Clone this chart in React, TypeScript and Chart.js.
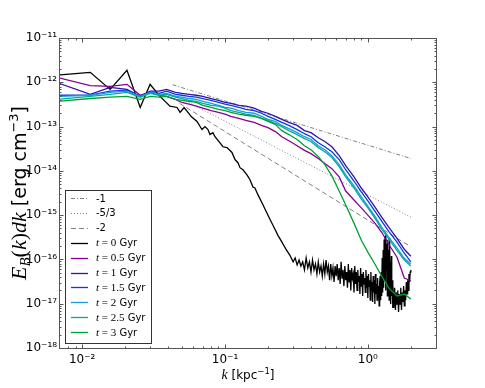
import React, { useEffect, useRef } from "react";
import { Chart, registerables } from "chart.js";

Chart.register(...registerables);

// ---------- data ----------
const kGrid = [0.0066, 0.0114, 0.0157, 0.0206, 0.0255, 0.0299, 0.0345, 0.039, 0.045, 0.05, 0.056, 0.063, 0.07, 0.08, 0.09, 0.1, 0.11, 0.125, 0.14, 0.16, 0.18, 0.2, 0.225, 0.25, 0.28, 0.32, 0.36, 0.4, 0.45, 0.5, 0.56, 0.63, 0.7, 0.8, 0.9, 1.0, 1.12, 1.25, 1.4, 1.6, 1.8, 2.0];

const eT05 = [1.3e-12, 8.4e-13, 8.1e-13, 9.0e-13, 5.1e-13, 5.9e-13, 5.1e-13, 4.8e-13, 4.1e-13, 3.5e-13, 3.2e-13, 2.9e-13, 2.6e-13, 2.3e-13, 2.1e-13, 1.9e-13, 1.7e-13, 1.53e-13, 1.38e-13, 1.24e-13, 1.06e-13, 9.5e-14, 7.7e-14, 5.9e-14, 4.8e-14, 3.7e-14, 2.9e-14, 2.45e-14, 1.9e-14, 1.46e-14, 1.12e-14, 7.3e-15, 3.5e-15, 2.2e-15, 1.46e-15, 1.0e-15, 6.6e-16, 4.1e-16, 2.2e-16, 1.12e-16, 3.8e-17, 3.3e-17];
const eT1 = [1.0e-12, 5.35e-13, 7.7e-13, 6.9e-13, 4.8e-13, 6.3e-13, 6.3e-13, 6.9e-13, 5.9e-13, 5.6e-13, 5.35e-13, 5.1e-13, 4.8e-13, 4.3e-13, 3.9e-13, 3.5e-13, 3.35e-13, 3.0e-13, 2.9e-13, 2.6e-13, 2.2e-13, 2.0e-13, 1.7e-13, 1.46e-13, 1.24e-13, 1.06e-13, 8.1e-14, 7.3e-14, 5.6e-14, 4.6e-14, 3.5e-14, 2.2e-14, 1.31e-14, 7.3e-15, 4.1e-15, 2.6e-15, 1.53e-15, 9.0e-16, 5.35e-16, 3.0e-16, 1.7e-16, 1.18e-16];
const eT15 = [5.1e-13, 5.1e-13, 6.3e-13, 6.6e-13, 4.8e-13, 5.9e-13, 5.6e-13, 6.3e-13, 5.35e-13, 5.1e-13, 4.8e-13, 4.6e-13, 4.3e-13, 3.9e-13, 3.5e-13, 3.2e-13, 3.0e-13, 2.7e-13, 2.45e-13, 2.3e-13, 2.0e-13, 1.7e-13, 1.46e-13, 1.24e-13, 1.06e-13, 8.55e-14, 6.9e-14, 5.9e-14, 4.3e-14, 3.5e-14, 2.7e-14, 1.8e-14, 1.06e-14, 5.9e-15, 3.35e-15, 2.1e-15, 1.24e-15, 7.3e-16, 4.3e-16, 2.45e-16, 1.38e-16, 8.8e-17];
const eT2 = [4.8e-13, 5.1e-13, 5.9e-13, 6.3e-13, 4.8e-13, 5.9e-13, 5.35e-13, 5.6e-13, 4.8e-13, 4.6e-13, 4.3e-13, 4.1e-13, 3.7e-13, 3.35e-13, 3.0e-13, 2.7e-13, 2.6e-13, 2.3e-13, 2.1e-13, 2.0e-13, 1.7e-13, 1.46e-13, 1.31e-13, 1.06e-13, 9.0e-14, 7.3e-14, 5.9e-14, 5.1e-14, 3.7e-14, 3.0e-14, 2.2e-14, 1.38e-14, 8.1e-15, 4.6e-15, 2.6e-15, 1.6e-15, 9.5e-16, 5.35e-16, 3.2e-16, 1.8e-16, 1.06e-16, 7.9e-17];
const eT25 = [4.1e-13, 4.8e-13, 5.35e-13, 5.9e-13, 4.6e-13, 5.6e-13, 5.1e-13, 5.35e-13, 4.6e-13, 4.3e-13, 3.9e-13, 3.7e-13, 3.35e-13, 3.0e-13, 2.9e-13, 2.6e-13, 2.3e-13, 2.1e-13, 1.9e-13, 1.8e-13, 1.53e-13, 1.38e-13, 1.18e-13, 1.0e-13, 8.1e-14, 6.6e-14, 5.35e-14, 4.6e-14, 3.35e-14, 2.7e-14, 2.0e-14, 1.24e-14, 7.3e-15, 4.1e-15, 2.3e-15, 1.46e-15, 8.55e-16, 4.8e-16, 2.9e-16, 1.6e-16, 9.7e-17, 7.1e-17];
const eT3 = [3.7e-13, 4.3e-13, 4.6e-13, 4.8e-13, 4.1e-13, 4.8e-13, 4.6e-13, 4.8e-13, 4.1e-13, 3.9e-13, 3.7e-13, 3.5e-13, 3.0e-13, 2.7e-13, 2.45e-13, 2.3e-13, 2.1e-13, 1.9e-13, 1.8e-13, 1.7e-13, 1.53e-13, 1.31e-13, 1.12e-13, 8.1e-14, 6.6e-14, 5.1e-14, 3.7e-14, 3.0e-14, 2.1e-14, 1.38e-14, 7.7e-15, 3.5e-15, 1.7e-15, 6.6e-16, 2.7e-16, 1.46e-16, 7.9e-17, 4.2e-17, 2.27e-17, 1.49e-17, 1.65e-17, 1.27e-17];

const kBlack = [
  0.0066, 0.0114, 0.0157, 0.0206, 0.0255, 0.0299, 0.0345, 0.0381, 0.0412, 0.0462,
  0.0485, 0.0517, 0.0551, 0.0578, 0.0637, 0.069, 0.0725, 0.076, 0.0785, 0.0824,
  0.0851, 0.0923, 0.0968, 0.1033, 0.1119, 0.1175, 0.1233, 0.1273, 0.1336, 0.1425,
  0.1496, 0.157, 0.162, 0.17, 0.1815, 0.1935, 0.2064, 0.2202, 0.2348, 0.2504,
  0.2671, 0.2848,
  0.30, 0.31, 0.32, 0.33, 0.34, 0.35, 0.36, 0.37, 0.38, 0.39,
  0.40, 0.41, 0.42, 0.43, 0.44, 0.45, 0.46, 0.47, 0.48, 0.49,
  0.50, 0.51, 0.52, 0.53, 0.54, 0.55, 0.56, 0.57, 0.58, 0.59, 0.60,
  0.61, 0.62, 0.63, 0.64, 0.65, 0.66, 0.67, 0.68, 0.69, 0.70,
  0.71, 0.72, 0.73, 0.74, 0.75, 0.76, 0.77, 0.78, 0.79, 0.80,
  0.81, 0.82, 0.83, 0.84, 0.85, 0.86, 0.87, 0.88, 0.89, 0.90,
  0.91, 0.92, 0.93, 0.94, 0.95, 0.96, 0.97, 0.98, 0.99, 1.00,
  1.01, 1.02, 1.03, 1.04, 1.05, 1.06, 1.07, 1.08, 1.09, 1.10,
  1.11, 1.12, 1.13, 1.14, 1.15, 1.16, 1.17, 1.18, 1.19, 1.20,
  1.21, 1.22, 1.23, 1.24, 1.25, 1.26, 1.27, 1.28, 1.29, 1.30,
  1.31, 1.32, 1.33, 1.34, 1.35, 1.36, 1.37, 1.38, 1.39, 1.40,
  1.41, 1.42, 1.43, 1.44, 1.45, 1.46, 1.47, 1.48, 1.49, 1.50,
  1.52, 1.54, 1.56, 1.58, 1.60, 1.62, 1.64, 1.66, 1.68, 1.70,
  1.72, 1.74, 1.76, 1.78, 1.80, 1.82, 1.84, 1.86, 1.88, 1.90,
  1.92, 1.94, 1.96, 1.98, 2.00,
];
const eT0 = [
  1.44e-12, 1.68e-12, 6.9e-13, 1.87e-12, 2.7e-13, 9.0e-13, 5.1e-13, 3.7e-13, 2.9e-13, 2.7e-13,
  2.1e-13, 2.7e-13, 2.1e-13, 1.7e-13, 1.31e-13, 8.55e-14, 1.0e-13, 8.55e-14, 6.6e-14, 7.3e-14,
  5.9e-14, 4.3e-14, 3.5e-14, 3.35e-14, 2.6e-14, 1.8e-14, 1.53e-14, 1.18e-14, 1.06e-14, 8.1e-15,
  6.3e-15, 4.3e-15, 4.1e-15, 2.9e-15, 1.9e-15, 1.24e-15, 8.1e-16, 5.35e-16, 3.5e-16, 2.45e-16,
  1.7e-16, 1.24e-16,
  8.8e-17, 1.08e-16, 7.5e-17, 9.7e-17, 7.1e-17, 8.8e-17, 5.8e-17, 1.08e-16, 6.4e-17, 8.8e-17,
  5.2e-17, 9.7e-17, 5.8e-17, 7.9e-17, 4.7e-17, 8.8e-17, 5.2e-17, 7.1e-17, 4.2e-17, 7.9e-17,
  4.7e-17, 9.7e-17, 5.2e-17, 7.1e-17, 3.4e-17, 7.9e-17, 4.2e-17, 6.4e-17, 3.1e-17, 7.1e-17, 4.2e-17,
  7.9e-17, 3.4e-17, 6.4e-17, 2.8e-17, 8.8e-17, 3.8e-17, 5.8e-17, 2.5e-17, 7.1e-17, 3.4e-17,
  5.2e-17, 2.3e-17, 7.9e-17, 3.1e-17, 5.8e-17, 2.0e-17, 6.4e-17, 3.8e-17, 4.7e-17, 1.8e-17,
  7.1e-17, 2.8e-17, 5.2e-17, 2.0e-17, 5.8e-17, 3.1e-17, 4.2e-17, 1.66e-17, 6.4e-17, 2.5e-17,
  4.7e-17, 1.5e-17, 5.2e-17, 2.8e-17, 3.8e-17, 1.8e-17, 5.8e-17, 2.3e-17, 4.2e-17, 1.35e-17,
  4.7e-17, 2.5e-17, 3.4e-17, 1.2e-17, 5.2e-17, 2.0e-17, 3.1e-17, 1.1e-17, 4.2e-17, 1.8e-17,
  3.4e-17, 9.8e-18, 4.7e-17, 1.66e-17, 2.8e-17, 1.2e-17, 3.8e-17, 1.5e-17, 2.5e-17, 8.9e-18,
  3.1e-17, 4.2e-17, 1.2e-17, 5.2e-17, 1.5e-17, 1.08e-16, 1.8e-17, 1.64e-16, 2.3e-17, 2.8e-16,
  3.4e-17, 3.4e-16, 2.0e-17, 3.8e-16, 5.8e-17, 2.25e-16, 1.5e-17, 2.8e-16, 4.2e-17, 1.64e-16,
  1.2e-17, 3.1e-16, 2.5e-17, 8.8e-17, 9.8e-18, 1.2e-16, 1.5e-17, 3.4e-17, 8.0e-18, 2.8e-17,
  8.0e-18, 2.3e-17, 7.2e-18, 1.8e-17, 9.8e-18, 2.0e-17, 6.5e-18, 1.66e-17, 9.8e-18, 2.3e-17,
  7.2e-18, 1.8e-17, 1.1e-17, 2.5e-17, 8.9e-18, 2.0e-17, 1.2e-17, 3.1e-17, 1.66e-17, 3.4e-17,
  2.0e-17, 4.7e-17, 3.1e-17, 5.2e-17, 5.8e-17,
];

// power-law reference lines (end points)
const kRef1 = [0.043, 2.0];
const eRef1 = [8.8e-13, 1.9e-14];
const kRef53 = [0.045, 2.0];
const eRef53 = [5.0e-13, 9.0e-16];
const kRef2 = [0.048, 2.0];
const eRef2 = [3.35e-13, 1.93e-16];

const xTickValues = [0.01, 0.1, 1];
const xTickLabels = ["10⁻²", "10⁻¹", "10⁰"];
const yTickValues = [1e-18, 1e-17, 1e-16, 1e-15, 1e-14, 1e-13, 1e-12, 1e-11];
const yTickLabels = ["10⁻¹⁸", "10⁻¹⁷", "10⁻¹⁶", "10⁻¹⁵", "10⁻¹⁴", "10⁻¹³", "10⁻¹²", "10⁻¹¹"];

const refLabels = ["-1", "-5/3", "-2"];
const timeLabels = ["0", "0.5", "1", "1.5", "2", "2.5", "3"];

// ---------- styling ----------
const SANS = "'DejaVu Sans', sans-serif";
const SERIF = "'Liberation Serif', 'DejaVu Serif', serif";
const FRAME = "#555555";
const colors = ["#000000", "#850095", "#3212aa", "#0a3ae0", "#1a9ae0", "#00aaa0", "#00a030"];

const toPts = (ks: number[], es: number[]) => ks.map((k, i) => ({ x: k, y: es[i] }));

type Seg = { t: string; f: string; dy?: number };

function drawSegs(ctx: CanvasRenderingContext2D, segs: Seg[], x: number, y: number, align: "left" | "center") {
  const ws = segs.map((s) => {
    ctx.font = s.f;
    return ctx.measureText(s.t).width;
  });
  const total = ws.reduce((a, b) => a + b, 0);
  let cx = align === "center" ? x - total / 2 : x;
  ctx.textBaseline = "alphabetic";
  ctx.textAlign = "left";
  segs.forEach((s, i) => {
    ctx.font = s.f;
    ctx.fillText(s.t, cx, y + (s.dy || 0));
    cx += ws[i];
  });
}

const decorPlugin = {
  id: "decor",
  afterDatasetsDraw(chart: any) {
    const { ctx, chartArea: ca, scales } = chart;
    const xs = scales.x;
    const ys = scales.y;
    ctx.save();

    // legend box
    const lx0 = 65.5, ly0 = 190.5, lx1 = 151.5, ly1 = 343.5;
    ctx.fillStyle = "#ffffff";
    ctx.fillRect(lx0, ly0, lx1 - lx0, ly1 - ly0);
    ctx.strokeStyle = "#333333";
    ctx.lineWidth = 1;
    ctx.strokeRect(lx0, ly0, lx1 - lx0, ly1 - ly0);
    const dsets = chart.data.datasets;
    dsets.forEach((ds: any, i: number) => {
      const cy = 198 + i * 14.9;
      ctx.save();
      ctx.strokeStyle = ds.borderColor;
      ctx.lineWidth = ds.borderWidth;
      ctx.setLineDash(ds.borderDash || []);
      ctx.beginPath();
      ctx.moveTo(71, Math.round(cy) + 0.5);
      ctx.lineTo(88, Math.round(cy) + 0.5);
      ctx.stroke();
      ctx.restore();
      ctx.fillStyle = "#000000";
      const m = /^t = (\S+) Gyr$/.exec(ds.label);
      if (m) {
        drawSegs(ctx, [
          { t: "t", f: `italic 11px ${SERIF}` },
          { t: " = " + m[1], f: `11px ${SERIF}` },
          { t: " Gyr", f: `10px ${SANS}` },
        ], 96, cy + 3.5, "left");
      } else {
        drawSegs(ctx, [{ t: ds.label, f: `10px ${SANS}` }], 96, cy + 3.5, "left");
      }
    });

    // frame
    ctx.strokeStyle = FRAME;
    ctx.lineWidth = 1;
    ctx.setLineDash([]);
    const L = ca.left - 0.5, R = ca.right + 0.5, T = ca.top + 0.5, B = ca.bottom + 0.5;
    ctx.strokeRect(L, T, R - L, B - T);

    // tick marks (inside, on all four sides)
    const xMin = xs.min, xMax = xs.max, yMin = ys.min, yMax = ys.max;
    ctx.beginPath();
    for (let e = -3; e <= 1; e++) {
      for (let m = 1; m <= 9; m++) {
        const v = m * Math.pow(10, e);
        if (v <= xMin * 1.0001 || v >= xMax * 0.9999) continue;
        const px = Math.round(xs.getPixelForValue(v)) + 0.5;
        const len = m === 1 ? 4 : 2;
        ctx.moveTo(px, B); ctx.lineTo(px, B - len);
        ctx.moveTo(px, T); ctx.lineTo(px, T + len);
      }
    }
    for (let e = -19; e <= -11; e++) {
      for (let m = 1; m <= 9; m++) {
        const v = m * Math.pow(10, e);
        if (v <= yMin * 1.0001 || v >= yMax * 0.9999) continue;
        const py = Math.round(ys.getPixelForValue(v)) + 0.5;
        const len = m === 1 ? 4 : 2;
        ctx.moveTo(L, py); ctx.lineTo(L + len, py);
        ctx.moveTo(R, py); ctx.lineTo(R - len, py);
      }
    }
    ctx.stroke();

    // axis titles
    ctx.fillStyle = "#000000";
    drawSegs(ctx, [
      { t: "k", f: `italic 14px ${SERIF}` },
      { t: " [kpc", f: `12px ${SANS}` },
      { t: "−1", f: `8.5px ${SANS}`, dy: -5 },
      { t: "]", f: `12px ${SANS}` },
    ], (ca.left + ca.right) / 2, 379, "center");

    ctx.save();
    ctx.translate(26, (ca.top + ca.bottom) / 2);
    ctx.rotate(-Math.PI / 2);
    drawSegs(ctx, [
      { t: "E", f: `italic 22px ${SERIF}` },
      { t: "B", f: `italic 15px ${SERIF}`, dy: 4 },
      { t: "(", f: `22px ${SERIF}` },
      { t: "k", f: `italic 22px ${SERIF}` },
      { t: ")", f: `22px ${SERIF}` },
      { t: "dk", f: `italic 22px ${SERIF}` },
      { t: " [erg cm", f: `19px ${SANS}` },
      { t: "−3", f: `13px ${SANS}`, dy: -8 },
      { t: "]", f: `19px ${SANS}` },
    ], 0, 0, "center");
    ctx.restore();

    ctx.restore();
  },
};

export default function App() {
  const ref = useRef<HTMLCanvasElement>(null);

  useEffect(() => {
    if (!ref.current) return;
    const series = [eT0, eT05, eT1, eT15, eT2, eT25, eT3];
    const refDefs = [
      { k: kRef1, e: eRef1, dash: [4, 2, 1, 2] },
      { k: kRef53, e: eRef53, dash: [1, 2] },
      { k: kRef2, e: eRef2, dash: [5, 3] },
    ];
    const datasets: any[] = [];
    refDefs.forEach((r, i) => {
      datasets.push({
        label: refLabels[i],
        data: toPts(r.k, r.e),
        borderColor: "#808080",
        borderWidth: 1,
        borderDash: r.dash,
        pointRadius: 0,
        fill: false,
        tension: 0,
      });
    });
    series.forEach((s, i) => {
      datasets.push({
        label: `t = ${timeLabels[i]} Gyr`,
        data: i === 0 ? toPts(kBlack, s) : toPts(kGrid, s),
        borderColor: colors[i],
        borderWidth: 1.3,
        pointRadius: 0,
        fill: false,
        tension: 0,
      });
    });
    const n = datasets.length;
    datasets.forEach((d, i) => (d.order = n - i));

    const chart = new Chart(ref.current, {
      type: "line",
      data: { datasets },
      options: {
        animation: false,
        responsive: false,
        devicePixelRatio: 1,
        parsing: false as any,
        normalized: true,
        layout: { padding: { top: 38, right: 49, left: 0, bottom: 0 } },
        plugins: { legend: { display: false }, tooltip: { enabled: false } },
        scales: {
          x: {
            type: "logarithmic",
            min: 0.007,
            max: 3,
            grid: { display: false, drawTicks: false },
            border: { display: false },
            afterBuildTicks: (s: any) => {
              s.ticks = xTickValues.map((v) => ({ value: v }));
            },
            afterFit: (s: any) => {
              s.height = 40;
            },
            ticks: {
              autoSkip: false,
              maxRotation: 0,
              padding: 5,
              color: "#000000",
              font: { family: "DejaVu Sans", size: 12 },
              callback: (_v: any, i: number) => xTickLabels[i],
            },
          },
          y: {
            type: "logarithmic",
            min: 1e-18,
            max: 1e-11,
            grid: { display: false, drawTicks: false },
            border: { display: false },
            afterBuildTicks: (s: any) => {
              s.ticks = yTickValues.map((v) => ({ value: v }));
            },
            afterFit: (s: any) => {
              s.width = 60;
            },
            ticks: {
              autoSkip: false,
              padding: 3,
              color: "#000000",
              font: { family: "DejaVu Sans", size: 12 },
              callback: (_v: any, i: number) => yTickLabels[i],
            },
          },
        },
      } as any,
      plugins: [decorPlugin],
    });
    return () => chart.destroy();
  }, []);

  return (
    <div style={{ position: "fixed", left: 0, top: 0, width: 485, height: 388, background: "#ffffff" }}>
      <canvas ref={ref} width={485} height={388} style={{ display: "block", width: 485, height: 388 }} />
    </div>
  );
}
